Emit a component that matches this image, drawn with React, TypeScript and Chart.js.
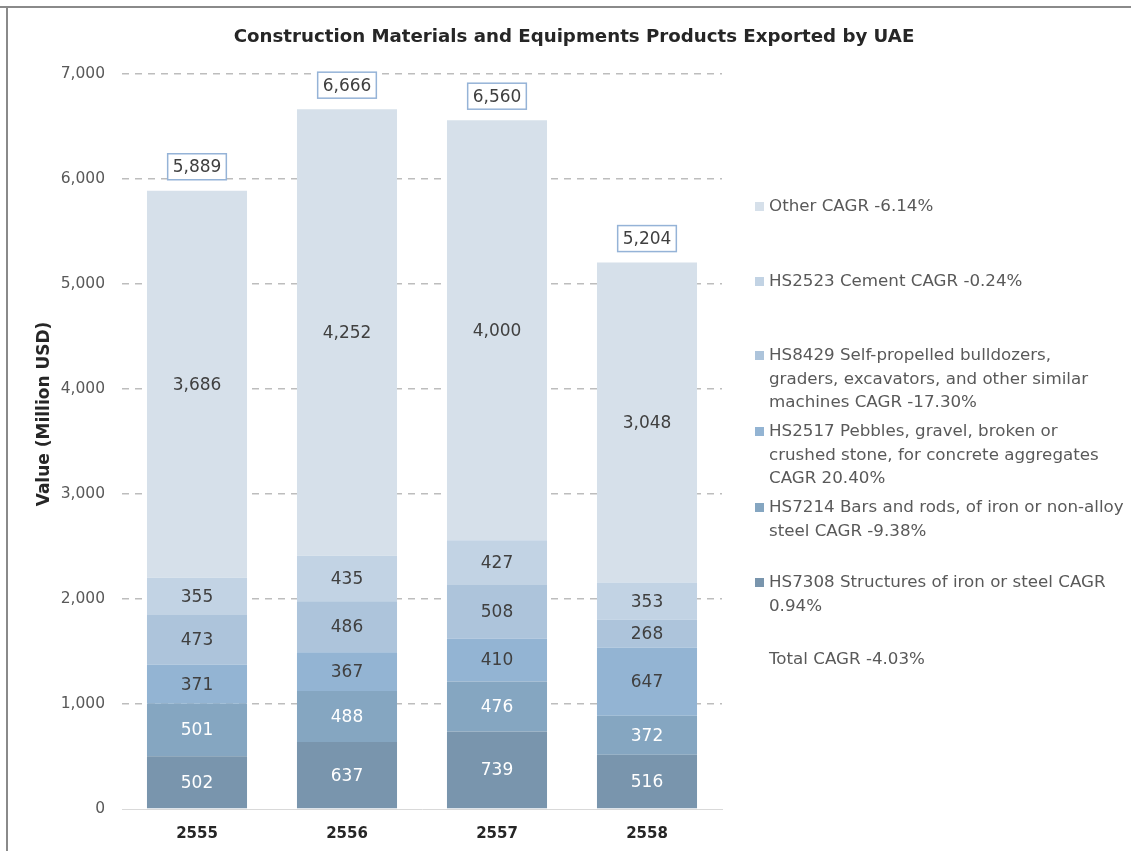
import React, { useEffect, useRef } from "react";
import { Chart, registerables } from "chart.js";

Chart.register(...registerables);

const categories = ["2555", "2556", "2557", "2558"];
const hs7308 = [502, 637, 739, 516];
const hs7214 = [501, 488, 476, 372];
const hs2517 = [371, 367, 410, 647];
const hs8429 = [473, 486, 508, 268];
const hs2523 = [355, 435, 427, 353];
const other = [3686, 4252, 4000, 3048];
const totals = [5889, 6666, 6560, 5204];

const seriesNames = [
  "HS7308 Structures of iron or steel CAGR 0.94%",
  "HS7214 Bars and rods, of iron or non-alloy steel CAGR -9.38%",
  "HS2517 Pebbles, gravel, broken or crushed stone, for concrete aggregates CAGR 20.40%",
  "HS8429 Self-propelled bulldozers, graders, excavators, and other similar machines CAGR -17.30%",
  "HS2523 Cement CAGR -0.24%",
  "Other CAGR -6.14%",
];
const seriesColors = ["#7995ad", "#85a6c1", "#93b4d3", "#adc4db", "#c2d3e4", "#d6e0ea"];
const labelColors = ["#ffffff", "#ffffff", "#404040", "#404040", "#404040", "#404040"];

const legendLines: { lines: string[]; color: string | null }[] = [
  { lines: ["Other CAGR -6.14%"], color: "#d6e0ea" },
  { lines: ["HS2523 Cement CAGR -0.24%"], color: "#c2d3e4" },
  {
    lines: ["HS8429 Self-propelled bulldozers,", "graders, excavators, and other similar", "machines CAGR -17.30%"],
    color: "#adc4db",
  },
  {
    lines: ["HS2517 Pebbles, gravel, broken or", "crushed stone, for concrete aggregates", "CAGR 20.40%"],
    color: "#93b4d3",
  },
  { lines: ["HS7214 Bars and rods, of iron or non-alloy", "steel CAGR -9.38%"], color: "#85a6c1" },
  { lines: ["HS7308 Structures of iron or steel CAGR", "0.94%"], color: "#7995ad" },
  { lines: ["Total CAGR -4.03%"], color: null },
];
const legendTops = [207, 282, 356, 432, 508, 583, 660];

const titleText = "Construction Materials and Equipments Products Exported by UAE";
const yTitleText = "Value (Million USD)";

const FONT = '"DejaVu Sans", sans-serif';

const customPlugin = {
  id: "customDraw",
  beforeDraw(chart: any) {
    const { ctx, width, height } = chart;
    ctx.save();
    ctx.fillStyle = "#ffffff";
    ctx.fillRect(0, 0, width, height);
    ctx.fillStyle = "#8a8a8a";
    ctx.fillRect(0, 6, width, 2);
    ctx.fillRect(6, 6, 2, height - 6);
    ctx.restore();
  },
  afterDatasetsDraw(chart: any) {
    const { ctx } = chart;
    ctx.save();
    ctx.textAlign = "center";
    ctx.textBaseline = "middle";
    ctx.font = `17px ${FONT}`;
    chart.data.datasets.forEach((ds: any, di: number) => {
      const meta = chart.getDatasetMeta(di);
      meta.data.forEach((el: any, i: number) => {
        const v = ds.data[i];
        const y = (el.y + el.base) / 2;
        ctx.fillStyle = labelColors[di];
        ctx.fillText(v.toLocaleString("en-US"), el.x, y + 1);
      });
    });
    // totals
    const topMeta = chart.getDatasetMeta(chart.data.datasets.length - 1);
    topMeta.data.forEach((el: any, i: number) => {
      const txt = totals[i].toLocaleString("en-US");
      const tw = ctx.measureText(txt).width;
      const bw = tw + 10;
      const bh = 26;
      const bx = el.x - bw / 2;
      const by = el.y - 11 - bh;
      ctx.fillStyle = "#ffffff";
      ctx.fillRect(bx, by, bw, bh);
      ctx.strokeStyle = "#95b3d7";
      ctx.lineWidth = 1.5;
      ctx.strokeRect(bx, by, bw, bh);
      ctx.fillStyle = "#404040";
      ctx.fillText(txt, el.x, by + bh / 2 + 1);
    });
    ctx.restore();
  },
  afterDraw(chart: any) {
    const { ctx } = chart;
    ctx.save();
    // title
    ctx.fillStyle = "#262626";
    ctx.font = `bold 18.2px ${FONT}`;
    ctx.textAlign = "center";
    ctx.textBaseline = "middle";
    ctx.fillText(titleText, 574, 37);
    // y title
    ctx.save();
    ctx.translate(45, 414);
    ctx.rotate(-Math.PI / 2);
    ctx.font = `bold 17px ${FONT}`;
    ctx.fillText(yTitleText, 0, 0);
    ctx.restore();
    // legend
    ctx.textAlign = "left";
    ctx.font = `16.7px ${FONT}`;
    legendLines.forEach((item, k) => {
      const y0 = legendTops[k];
      if (item.color) {
        ctx.fillStyle = item.color;
        ctx.fillRect(755, y0 - 5, 9, 9);
      }
      ctx.fillStyle = "#595959";
      item.lines.forEach((ln, j) => {
        ctx.fillText(ln, 769, y0 + j * 23.5);
      });
    });
    ctx.restore();
  },
};

export default function App() {
  const ref = useRef<HTMLCanvasElement | null>(null);
  useEffect(() => {
    if (!ref.current) return;
    const seriesData = [hs7308, hs7214, hs2517, hs8429, hs2523, other];
    const chart = new Chart(ref.current, {
      type: "bar",
      data: {
        labels: categories,
        datasets: seriesData.map((d, i) => ({
          label: seriesNames[i],
          data: d,
          backgroundColor: seriesColors[i],
          borderWidth: 0,
          categoryPercentage: 1,
          barPercentage: 0.667,
        })),
      },
      options: {
        responsive: false,
        animation: false,
        devicePixelRatio: 1,
        layout: { padding: { left: 0, right: 409, top: 74, bottom: 0 } },
        plugins: {
          legend: { display: false },
          title: { display: false },
          tooltip: { enabled: false },
        },
        scales: {
          x: {
            stacked: true,
            grid: { display: false, drawTicks: false },
            border: { display: true, color: "#d9d9d9", width: 1 },
            ticks: {
              color: "#262626",
              padding: 16,
              font: { family: FONT, size: 15, weight: "bold" },
            },
            afterFit: (s: any) => {
              s.height = 42;
            },
          },
          y: {
            stacked: true,
            min: 0,
            max: 7000,
            ticks: {
              stepSize: 1000,
              color: "#595959",
              padding: 17,
              font: { family: FONT, size: 15.5 },
              callback: (v: any) => Number(v).toLocaleString("en-US"),
            },
            grid: {
              drawTicks: false,
              lineWidth: 1.5,
              color: (c: any) => (c.tick && c.tick.value === 0 ? "rgba(0,0,0,0)" : "#bdbdbd"),
            },
            border: { display: false, dash: [7, 6] },
            afterFit: (s: any) => {
              s.width = 122;
            },
          },
        },
      },
      plugins: [customPlugin],
    });
    return () => chart.destroy();
  }, []);
  return (
    <canvas
      ref={ref}
      width={1131}
      height={851}
      style={{ position: "absolute", left: 0, top: 0, display: "block" }}
    />
  );
}
